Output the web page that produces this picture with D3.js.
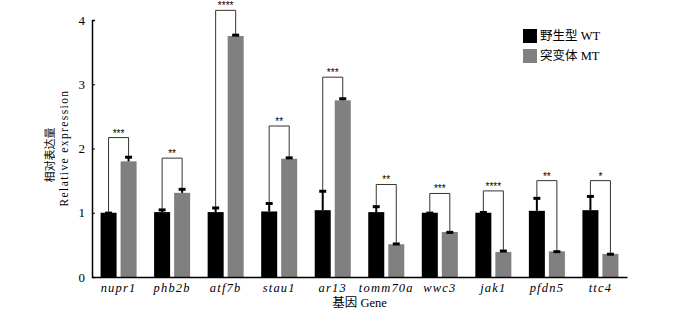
<!DOCTYPE html>
<html>
<head>
<meta charset="utf-8">
<script src="https://cdn.jsdelivr.net/npm/d3@7"></script>
<style>
  body { margin: 0; background: #fff; }
  svg { display: block; }
</style>
</head>
<body>
<svg id="chart"></svg>
<script>
// data
const genes = ["nupr1", "phb2b", "atf7b", "stau1", "ar13", "tomm70a", "wwc3", "jak1", "pfdn5", "ttc4"]
const wtValues = [1.0, 1.01, 1.01, 1.02, 1.04, 1.01, 1.0, 1.0, 1.03, 1.04]
const wtErrors = [0.01, 0.05, 0.08, 0.14, 0.31, 0.1, 0.01, 0.02, 0.21, 0.23]
const mtValues = [1.8, 1.31, 3.75, 1.84, 2.75, 0.51, 0.7, 0.39, 0.4, 0.36]
const mtErrors = [0.08, 0.07, 0.03, 0.03, 0.04, 0.02, 0.01, 0.03, 0.01, 0.01]
const bracketTops = [2.17, 1.85, 4.15, 2.35, 3.11, 1.44, 1.3, 1.34, 1.5, 1.5]
const stars = ["***", "**", "****", "**", "***", "**", "***", "****", "**", "*"]
const groups = ["WT", "MT"]
const legendLabels = ["野生型 WT", "突变体 MT"]
const yTicks = [0, 1, 2, 3, 4]

const colors = { WT: "#000000", MT: "#808080" }

const width = 700, height = 310
const margin = { top: 20, right: 73, bottom: 33, left: 92 }
const serif = "Liberation Serif, Noto Sans CJK SC, serif"

const svg = d3.select("#chart")
    .attr("width", width)
    .attr("height", height)

const x = d3.scaleBand()
    .domain(genes)
    .range([margin.left, width - margin.right])
    .paddingInner(0.327)
    .paddingOuter(0.16)

const xSub = d3.scaleBand()
    .domain(groups)
    .range([0, x.bandwidth()])
    .paddingInner(0.2)

const y = d3.scaleLinear()
    .domain([0, 4])
    .range([height - margin.bottom, margin.top])

// table built from the arrays
const rows = genes.map((g, i) => ({
    gene: g,
    bars: [
        { key: "WT", value: wtValues[i], err: wtErrors[i] },
        { key: "MT", value: mtValues[i], err: mtErrors[i] }
    ],
    top: bracketTops[i],
    stars: stars[i]
}))

const gGroups = svg.append("g")
    .selectAll("g")
    .data(rows)
    .join("g")
    .attr("transform", d => `translate(${x(d.gene)},0)`)

// bars
gGroups.selectAll("rect")
    .data(d => d.bars)
    .join("rect")
    .attr("x", d => xSub(d.key))
    .attr("y", d => y(d.value))
    .attr("width", xSub.bandwidth())
    .attr("height", d => y(0) - y(d.value))
    .attr("fill", d => colors[d.key])

// error bars (upper only)
const cx = d => xSub(d.key) + xSub.bandwidth() / 2
gGroups.selectAll("line.stem")
    .data(d => d.bars)
    .join("line")
    .attr("class", "stem")
    .attr("x1", cx).attr("x2", cx)
    .attr("y1", d => y(d.value))
    .attr("y2", d => y(d.value + d.err))
    .attr("stroke", "#000")
    .attr("stroke-width", 2)
gGroups.selectAll("line.cap")
    .data(d => d.bars)
    .join("line")
    .attr("class", "cap")
    .attr("x1", d => cx(d) - 3.5).attr("x2", d => cx(d) + 3.5)
    .attr("y1", d => y(d.value + d.err) + 1)
    .attr("y2", d => y(d.value + d.err) + 1)
    .attr("stroke", "#000")
    .attr("stroke-width", 3)

// significance brackets
gGroups.append("path")
    .attr("fill", "none")
    .attr("stroke", "#333")
    .attr("stroke-width", 1)
    .attr("d", d => {
        const a = d.bars[0], b = d.bars[1]
        return `M${cx(a)},${y(a.value + a.err)}V${y(d.top)}H${cx(b)}V${y(b.value + b.err)}`
    })
gGroups.append("text")
    .attr("x", d => (cx(d.bars[0]) + cx(d.bars[1])) / 2)
    .attr("y", d => y(d.top) - 1)
    .attr("text-anchor", "middle")
    .attr("font-family", "Liberation Sans, Arial, sans-serif")
    .attr("font-size", 10)
    .attr("fill", "#000")
    .text(d => d.stars)

// axes
const yAxis = svg.append("g")
    .attr("transform", `translate(${margin.left},0)`)
    .call(d3.axisLeft(y).tickValues(yTicks).tickFormat(d3.format("d")).tickSize(-3).tickPadding(7))
yAxis.select(".domain").attr("stroke-width", 1.5)
yAxis.selectAll("text")
    .attr("font-family", serif)
    .attr("font-size", 13)
    .attr("fill", "#000")

const xAxis = svg.append("g")
    .attr("transform", `translate(0,${y(0)})`)
    .call(d3.axisBottom(x).tickSize(0).tickPadding(6).tickSizeOuter(0))
xAxis.select(".domain").attr("stroke-width", 1.5)
xAxis.selectAll("text")
    .attr("font-family", serif)
    .attr("font-style", "italic")
    .attr("font-size", 12.5)
    .attr("letter-spacing", 1.2)
    .attr("fill", "#000")

// axis titles
const plotMid = (margin.left + width - margin.right) / 2
svg.append("text")
    .attr("x", plotMid)
    .attr("y", 307)
    .attr("text-anchor", "middle")
    .attr("font-family", serif)
    .attr("font-size", 12.5)
    .text("基因 Gene")

svg.append("text")
    .attr("transform", "translate(54,155) rotate(-90)")
    .attr("text-anchor", "middle")
    .attr("font-family", "Noto Sans CJK SC, sans-serif")
    .attr("font-size", 11)
    .text("相对表达量")
svg.append("text")
    .attr("transform", "translate(68,148) rotate(-90)")
    .attr("text-anchor", "middle")
    .attr("font-family", serif)
    .attr("font-size", 11.5)
    .attr("letter-spacing", 1.4)
    .text("Relative expression")

// legend
const legend = svg.append("g")
    .attr("transform", "translate(523,29)")
    .selectAll("g")
    .data(groups)
    .join("g")
    .attr("transform", (d, i) => `translate(0,${i * 20})`)
legend.append("rect")
    .attr("width", 14).attr("height", 14)
    .attr("fill", d => colors[d])
legend.append("text")
    .attr("x", 17)
    .attr("y", 7)
    .attr("dominant-baseline", "central")
    .attr("font-family", serif)
    .attr("font-size", 12.5)
    .text((d, i) => legendLabels[i])
</script>
</body>
</html>
